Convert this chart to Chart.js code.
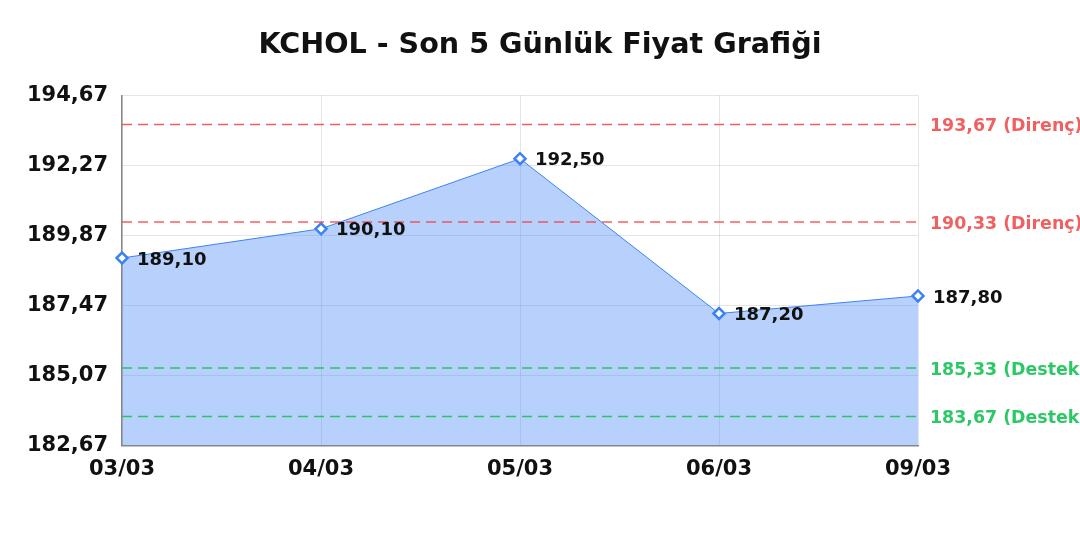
<!DOCTYPE html>
<html>
<head>
<meta charset="utf-8">
<script src="https://cdn.jsdelivr.net/npm/chart.js@4/dist/chart.umd.min.js"></script>
<style>
  html, body { margin: 0; padding: 0; background: #fff; }
  #wrap { width: 1080px; height: 540px; }
</style>
</head>
<body>
<div id="wrap"><canvas id="priceChart"></canvas></div>
<script>
// Price data
const days = ['03/03', '04/03', '05/03', '06/03', '09/03'];
const prices = [189.10, 190.10, 192.50, 187.20, 187.80];
const yTicks = [182.67, 185.07, 187.47, 189.87, 192.27, 194.67];

// Support / resistance levels
const levelValues = [193.67, 190.33, 185.33, 183.67];
const levelNames = ['Direnç', 'Direnç', 'Destek', 'Destek'];

const fmt = v => v.toFixed(2).replace('.', ',');

/**
 * Dashed level lines with labels right of the plot
 */
const levelLines = {
    id: 'levelLines',
    afterDatasetsDraw(chart) {
        const ctx = chart.ctx;
        const area = chart.chartArea;
        const y = chart.scales.y;
        ctx.save();
        levelValues.forEach((v, i) => {
            const py = y.getPixelForValue(v);
            const color = levelNames[i] === 'Direnç' ? 'rgba(239, 68, 68, 0.85)' : 'rgba(34, 197, 94, 0.95)';
            ctx.strokeStyle = color;
            ctx.lineWidth = 1.5;
            ctx.setLineDash([10, 6]);
            ctx.beginPath();
            ctx.moveTo(area.left, py);
            ctx.lineTo(area.right, py);
            ctx.stroke();
            ctx.setLineDash([]);
            ctx.fillStyle = color;
            ctx.font = 'bold 17.4px "DejaVu Sans"';
            ctx.textBaseline = 'middle';
            ctx.textAlign = 'left';
            ctx.fillText(fmt(v) + ' (' + levelNames[i] + ')', area.right + 12, py + 2);
        });
        ctx.restore();
    }
};

/**
 * Value labels next to the points
 */
const pointLabels = {
    id: 'pointLabels',
    afterDatasetsDraw(chart) {
        const ctx = chart.ctx;
        const meta = chart.getDatasetMeta(0);
        ctx.save();
        ctx.fillStyle = '#111';
        ctx.font = 'bold 18px "DejaVu Sans"';
        ctx.textBaseline = 'middle';
        ctx.textAlign = 'left';
        meta.data.forEach((pt, i) => {
            ctx.fillText(fmt(prices[i]), pt.x + 15, pt.y + 2);
        });
        ctx.restore();
    }
};

document.addEventListener('DOMContentLoaded', function() {
    const ctx = document.getElementById('priceChart').getContext('2d');

    new Chart(ctx, {
        type: 'line',
        data: {
            labels: days,
            datasets: [{
                label: 'KCHOL',
                data: prices,
                borderColor: '#3b82f6',
                borderWidth: 1,
                backgroundColor: 'rgba(59, 130, 246, 0.37)',
                fill: 'start',
                tension: 0,
                pointStyle: 'rectRot',
                pointRadius: 5.5,
                pointBorderWidth: 2.5,
                pointBackgroundColor: '#fff',
                pointBorderColor: '#3b82f6'
            }]
        },
        options: {
            responsive: true,
            maintainAspectRatio: false,
            animation: false,
            layout: {
                padding: { left: 13, right: 13, top: 0, bottom: 47 }
            },
            scales: {
                x: {
                    offset: false,
                    grid: { color: 'rgba(0,0,0,0.1)', drawTicks: false },
                    border: { color: '#888', width: 1.5 },
                    ticks: {
                        color: '#111',
                        padding: 11,
                        maxRotation: 0,
                        font: { family: 'DejaVu Sans', size: 21, weight: 'bold' }
                    }
                },
                y: {
                    min: yTicks[0],
                    max: yTicks[yTicks.length - 1],
                    afterBuildTicks: axis => {
                        axis.ticks = yTicks.map(v => ({ value: v }));
                    },
                    grid: { color: 'rgba(0,0,0,0.1)', drawTicks: false },
                    border: { color: '#888', width: 1.5 },
                    ticks: {
                        color: '#111',
                        padding: 14,
                        font: { family: 'DejaVu Sans', size: 21, weight: 'bold' },
                        callback: v => fmt(v)
                    }
                },
                // empty right axis that only reserves room for the level labels
                yRight: {
                    position: 'right',
                    display: true,
                    grid: { display: false, drawTicks: false },
                    border: { display: false },
                    ticks: { display: false },
                    afterFit: axis => { axis.width = 149; }
                }
            },
            plugins: {
                legend: { display: false },
                tooltip: { enabled: false },
                title: {
                    display: true,
                    text: 'KCHOL - Son 5 Günlük Fiyat Grafiği',
                    color: '#111',
                    font: { family: 'DejaVu Sans', size: 28.6, weight: 'bold' },
                    padding: { top: 28, bottom: 33 }
                }
            }
        },
        plugins: [levelLines, pointLabels]
    });
});
</script>
</body>
</html>
